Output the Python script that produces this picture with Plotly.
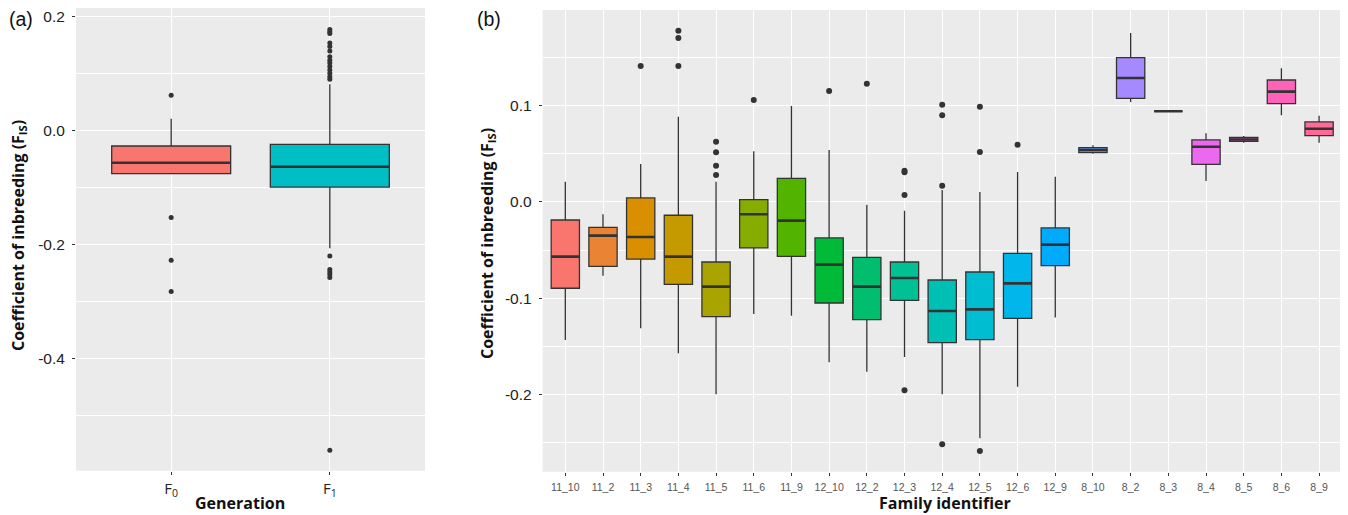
import math
import plotly.graph_objects as go

# ---------------- Panel (a) data ----------------
gen_labels = ["F<sub>0</sub>", "F<sub>1</sub>"]
gen_colors = ["#F8766D", "#00BFC4"]
gen_q1 = [-0.076, -0.0995]
gen_median = [-0.0568, -0.0638]
gen_q3 = [-0.0275, -0.0246]
gen_lower = [-0.076, -0.207]
gen_upper = [0.0204, 0.0807]
gen_outliers = [
    [0.0614, -0.153, -0.228, -0.2825],
    [0.177, 0.173, 0.170, 0.153, 0.147, 0.139, 0.129, 0.123, 0.118, 0.112,
     0.106, 0.100, 0.094, 0.0895,
     -0.2205, -0.244, -0.2486, -0.253, -0.258, -0.561],
]
a_major_ticks = [0.2, 0.0, -0.2, -0.4]
a_major_text = ["0.2", "0.0", "-0.2", "-0.4"]
a_minor_ticks = [0.1, -0.1, -0.3, -0.5]

# ---------------- Panel (b) data ----------------
families = ["11_10", "11_2", "11_3", "11_4", "11_5", "11_6", "11_9",
            "12_10", "12_2", "12_3", "12_4", "12_5", "12_6", "12_9",
            "8_10", "8_2", "8_3", "8_4", "8_5", "8_6", "8_9"]
fam_q1 = [-0.0897, -0.0669, -0.0593, -0.0856, -0.1192, -0.0478, -0.0565,
          -0.105, -0.1223, -0.1022, -0.1462, -0.1431, -0.1210, -0.0662,
          0.0513, 0.1078, 0.0943, 0.0392, 0.0631, 0.1022, 0.0689]
fam_median = [-0.0568, -0.035, -0.0364, -0.0568, -0.088, -0.0128, -0.0194,
              -0.0651, -0.088, -0.079, -0.1133, -0.1116, -0.0846, -0.0443,
              0.054, 0.1289, 0.0943, 0.0575, 0.065, 0.1147, 0.0762]
fam_q3 = [-0.0187, -0.0263, 0.0042, -0.0138, -0.0624, 0.0024, 0.0246,
          -0.0374, -0.0575, -0.0624, -0.0811, -0.0728, -0.0534, -0.027,
          0.0565, 0.150, 0.0943, 0.0645, 0.0672, 0.1268, 0.0832]
fam_lower = [-0.1435, -0.0766, -0.1313, -0.1573, -0.200, -0.1164, -0.1182,
             -0.1667, -0.1764, -0.1611, -0.200, -0.2457, -0.192, -0.1202,
             0.0502, 0.104, 0.0943, 0.0218, 0.0617, 0.0901, 0.0617]
fam_upper = [0.0211, -0.0128, 0.0395, 0.0887, 0.0211, 0.0527, 0.0998,
             0.054, -0.0028, -0.009, 0.0125, 0.0104, 0.0312, 0.0263,
             0.0589, 0.1757, 0.0943, 0.0714, 0.0686, 0.139, 0.0897]
fam_outliers = [
    [], [], [0.1414], [0.178, 0.1705, 0.1414],
    [0.0627, 0.0516, 0.0377, 0.0281], [0.106], [],
    [0.1154], [0.123], [0.0325, 0.0309, 0.0073, -0.1957],
    [0.1012, 0.0901, 0.017, -0.2519], [0.0991, 0.052, -0.2588],
    [0.0596], [], [], [], [], [], [], [], [],
]
b_major_ticks = [0.1, 0.0, -0.1, -0.2]
b_major_text = ["0.1", "0.0", "-0.1", "-0.2"]
b_minor_ticks = [0.15, 0.05, -0.05, -0.15, -0.25]


def hue_pal(n, c=100.0, l=65.0, h0=15.0, h1=375.0):
    """ggplot2-style HCL hue palette (styling only)."""
    Xn, Yn, Zn = 95.047, 100.0, 108.883
    un = 4 * Xn / (Xn + 15 * Yn + 3 * Zn)
    vn = 9 * Yn / (Xn + 15 * Yn + 3 * Zn)
    cols = []
    step = (h1 - h0) / n
    for k in range(n):
        h = math.radians((h0 + k * step) % 360)
        u, v = c * math.cos(h), c * math.sin(h)
        Y = Yn * ((l + 16) / 116) ** 3
        up = u / (13 * l) + un
        vp = v / (13 * l) + vn
        X = 9.0 * Y * up / (4 * vp)
        Z = -X / 3 - 5 * Y + 3 * Y / vp
        X, Y, Z = X / 100, Y / 100, Z / 100
        r = 3.240479 * X - 1.537150 * Y - 0.498535 * Z
        g = -0.969256 * X + 1.875992 * Y + 0.041556 * Z
        b = 0.055648 * X - 0.204043 * Y + 1.057311 * Z

        def gam(t):
            t = 12.92 * t if t <= 0.0031308 else 1.055 * t ** (1 / 2.4) - 0.055
            return int(round(min(1, max(0, t)) * 255))
        cols.append("#%02X%02X%02X" % (gam(r), gam(g), gam(b)))
    return cols


fam_colors = hue_pal(len(families))

# The page body adds an 8px margin, so the figure is drawn 8px in from the
# window edge; size it to fill the remaining 1340x507 area.
OFF = 8
W, H = 1348 - OFF, 515 - OFF


def px(x):
    return (x - OFF) / W


def py(y):
    return 1 - (y - OFF) / H


EDGE = "#333333"
NUM_FONT = "Liberation Sans, Arial, sans-serif"
TITLE_FONT = "Open Sans, Lato, sans-serif"

fig = go.Figure()
shapes = []

# Panel (a)
for i, g in enumerate(gen_labels):
    fig.add_trace(go.Box(
        x=[g], q1=[gen_q1[i]], median=[gen_median[i]], q3=[gen_q3[i]],
        lowerfence=[gen_lower[i]], upperfence=[gen_upper[i]],
        fillcolor=gen_colors[i], line=dict(color=EDGE, width=1.3),
        whiskerwidth=0, boxpoints=False, width=0.75,
        xaxis="x", yaxis="y", showlegend=False, hoverinfo="skip"))
    fig.add_trace(go.Scatter(
        x=[g] * len(gen_outliers[i]), y=gen_outliers[i], mode="markers",
        marker=dict(color=EDGE, size=5), xaxis="x", yaxis="y",
        showlegend=False, hoverinfo="skip"))
    shapes.append(dict(type="line", xref="x", yref="y",
                       x0=i - 0.375, x1=i + 0.375,
                       y0=gen_median[i], y1=gen_median[i],
                       line=dict(color=EDGE, width=2.6)))

# Panel (b)
for i, f in enumerate(families):
    fig.add_trace(go.Box(
        x=[f], q1=[fam_q1[i]], median=[fam_median[i]], q3=[fam_q3[i]],
        lowerfence=[fam_lower[i]], upperfence=[fam_upper[i]],
        fillcolor=fam_colors[i], line=dict(color=EDGE, width=1.3),
        whiskerwidth=0, boxpoints=False, width=0.75,
        xaxis="x2", yaxis="y2", showlegend=False, hoverinfo="skip"))
    if fam_outliers[i]:
        fig.add_trace(go.Scatter(
            x=[f] * len(fam_outliers[i]), y=fam_outliers[i], mode="markers",
            marker=dict(color=EDGE, size=6), xaxis="x2", yaxis="y2",
            showlegend=False, hoverinfo="skip"))
    shapes.append(dict(type="line", xref="x2", yref="y2",
                       x0=i - 0.375, x1=i + 0.375,
                       y0=fam_median[i], y1=fam_median[i],
                       line=dict(color=EDGE, width=2.6)))

grid_major = dict(showgrid=True, gridcolor="white", gridwidth=1.2, zeroline=False,
                  ticks="outside", ticklen=3, tickcolor=EDGE, tickwidth=1,
                  showline=False, ticklabeloverflow="allow")

fig.update_layout(
    width=W, height=H,
    margin=dict(l=0, r=0, t=0, b=0),
    paper_bgcolor="white", plot_bgcolor="#EBEBEB",
    boxmode="overlay",
    shapes=shapes,
    xaxis=dict(domain=[px(76), px(425)], type="category",
               categoryorder="array", categoryarray=gen_labels,
               range=[-0.6, 1.6], anchor="y",
               tickfont=dict(family=TITLE_FONT, size=15, color="#222222"),
               ticklabelstandoff=1, **grid_major),
    yaxis=dict(domain=[py(470.7), py(8)], range=[-0.597, 0.2146],
               anchor="x", tickvals=a_major_ticks, ticktext=a_major_text,
               tickfont=dict(family=NUM_FONT, size=15.5, color="#222222"),
               ticklabelstandoff=4,
               minor=dict(tickvals=a_minor_ticks, showgrid=True,
                          gridcolor="white", gridwidth=0.6, ticks=""),
               **grid_major),
    xaxis2=dict(domain=[px(542.7), px(1341.7)], type="category",
                categoryorder="array", categoryarray=families,
                range=[-0.6, len(families) - 0.4], anchor="y2",
                tickfont=dict(family=NUM_FONT, size=10.5, color="#555555"),
                ticklabelstandoff=3, **grid_major),
    yaxis2=dict(domain=[py(471.7), py(10)], range=[-0.2804, 0.1996],
                anchor="x2", tickvals=b_major_ticks, ticktext=b_major_text,
                tickfont=dict(family=NUM_FONT, size=15.5, color="#222222"),
                ticklabelstandoff=4,
                minor=dict(tickvals=b_minor_ticks, showgrid=True,
                           gridcolor="white", gridwidth=0.6, ticks=""),
                **grid_major),
)

ytitle = "Coefficient of inbreeding (F<sub>IS</sub>)"
title_font = dict(family=TITLE_FONT, size=16, color="#111111")
annots = [
    dict(text="(a)", x=px(21), y=py(19), font=dict(family=NUM_FONT, size=19.5, color="#111111")),
    dict(text="(b)", x=px(489), y=py(19), font=dict(family=NUM_FONT, size=19.5, color="#111111")),
    dict(text="<b>Generation</b>", x=px(240), y=py(503), font=title_font),
    dict(text="<b>Family identifier</b>", x=px(945), y=py(503), font=title_font),
    dict(text="<b>" + ytitle + "</b>", x=px(18), y=py(236), textangle=-90, font=title_font),
    dict(text="<b>" + ytitle + "</b>", x=px(488), y=py(244), textangle=-90, font=title_font),
]
for a in annots:
    a.update(xref="paper", yref="paper", showarrow=False,
             xanchor="center", yanchor="middle")
fig.update_layout(annotations=annots)

fig.write_html("out.html")
